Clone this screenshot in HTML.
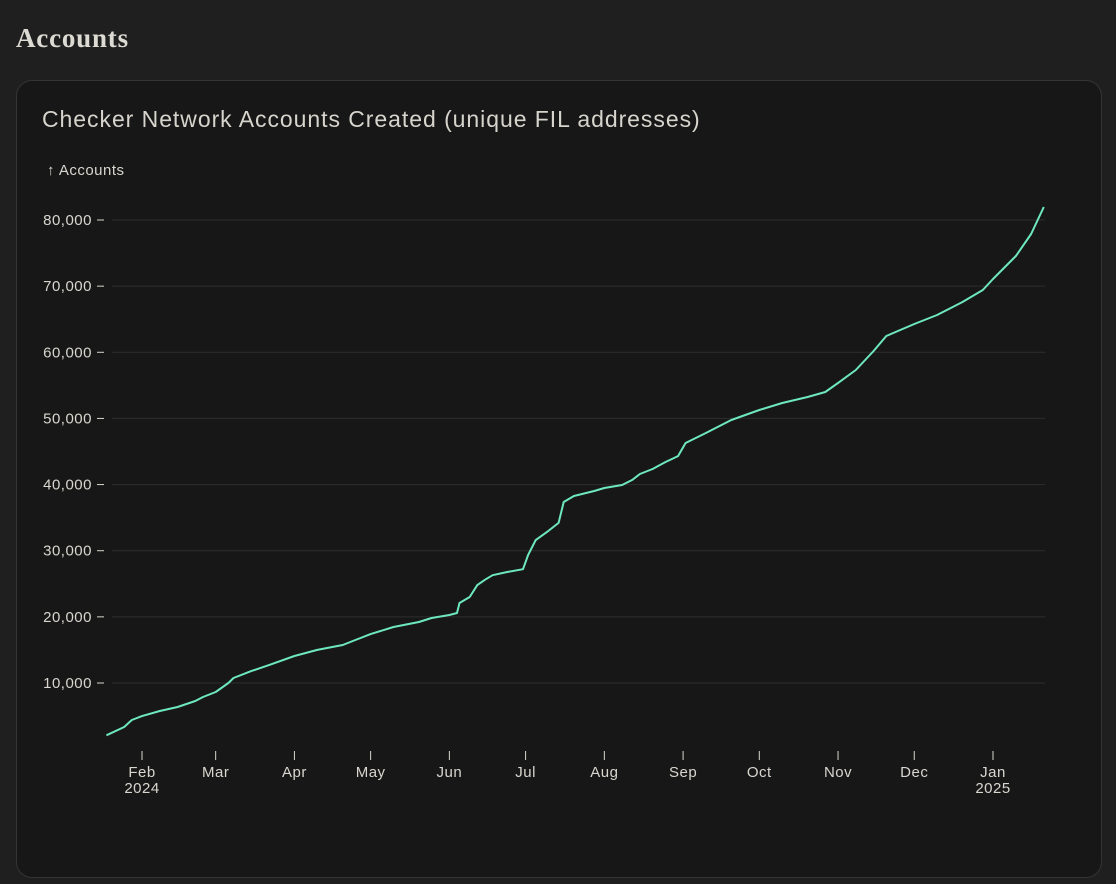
<!DOCTYPE html>
<html><head><meta charset="utf-8"><style>
html,body{margin:0;padding:0;background:#1f1f1f;width:1116px;height:884px;overflow:hidden}
h1{position:absolute;left:16px;top:23px;margin:0;font-family:"Liberation Serif",serif;font-weight:bold;font-size:27px;letter-spacing:0.8px;color:#dcdad2}
#card{position:absolute;left:16px;top:80px;width:1086px;height:798px;background:#171717;border:1px solid #343434;border-radius:16px;box-sizing:border-box}
#title{position:absolute;left:42px;top:106px;font-family:"Liberation Sans",sans-serif;font-size:23px;letter-spacing:0.95px;color:#d6d4cc}
svg{position:absolute;left:0;top:0}
text{font-family:"Liberation Sans",sans-serif;font-size:15px;letter-spacing:0.5px;fill:#d8d6ce}
</style></head><body>
<h1>Accounts</h1>
<div id="card"></div>
<div id="title">Checker Network Accounts Created (unique FIL addresses)</div>
<svg id="chart" width="1116" height="884"></svg>
<script>
const yTicks=[10000,20000,30000,40000,50000,60000,70000,80000];
const xTickDates=["2024-02-01","2024-03-01","2024-04-01","2024-05-01","2024-06-01","2024-07-01","2024-08-01","2024-09-01","2024-10-01","2024-11-01","2024-12-01","2025-01-01"];
const xTickLabels=["Feb","Mar","Apr","May","Jun","Jul","Aug","Sep","Oct","Nov","Dec","Jan"];
const xTickYears=["2024","","","","","","","","","","","2025"];
const dates=["2024-01-18","2024-01-25","2024-01-28","2024-02-01","2024-02-08","2024-02-15","2024-02-22","2024-02-25","2024-03-01","2024-03-06","2024-03-08","2024-03-15","2024-03-22","2024-04-01","2024-04-10","2024-04-20","2024-04-25","2024-05-01","2024-05-10","2024-05-20","2024-05-25","2024-06-01","2024-06-04","2024-06-05","2024-06-09","2024-06-12","2024-06-15","2024-06-18","2024-06-24","2024-06-30","2024-07-02","2024-07-05","2024-07-10","2024-07-14","2024-07-16","2024-07-20","2024-07-28","2024-08-01","2024-08-08","2024-08-12","2024-08-15","2024-08-20","2024-08-25","2024-08-30","2024-09-02","2024-09-10","2024-09-20","2024-10-01","2024-10-10","2024-10-20","2024-10-27","2024-11-01","2024-11-08","2024-11-15","2024-11-20","2024-12-01","2024-12-10","2024-12-20","2024-12-28","2025-01-01","2025-01-10","2025-01-16","2025-01-21"];
const accounts=[2100,3350,4400,5000,5770,6370,7280,7880,8640,10000,10760,11800,12700,14080,15000,15750,16500,17400,18470,19220,19830,20280,20580,22100,23000,24800,25600,26300,26800,27200,29350,31600,33000,34200,37370,38270,39030,39480,39940,40700,41600,42350,43400,44300,46290,47800,49760,51280,52330,53240,54000,55360,57320,60200,62460,64280,65640,67600,69420,71080,74560,77890,81970];

const NS="http://www.w3.org/2000/svg";
const svg=document.getElementById('chart');
const t0=Date.parse("2024-02-01"), t1=Date.parse("2025-01-01");
function x(d){return 142+(Date.parse(d)-t0)/(t1-t0)*(993-142);}
function y(v){return 683-(v-10000)*(683-220)/70000;}
function mk(tag,attrs){const e=document.createElementNS(NS,tag);for(const k in attrs)e.setAttribute(k,attrs[k]);svg.appendChild(e);return e;}

const yl=mk('text',{x:47,y:175});
yl.textContent="↑ Accounts";



yTicks.forEach(v=>{
  const g=mk('line',{x1:112,x2:1045,y1:y(v),y2:y(v),stroke:'#2e2e2e','stroke-width':1});
  
  
  const tk=mk('line',{x1:97,x2:104,y1:y(v),y2:y(v),stroke:'#d8d6ce','stroke-width':1});
  
  
  const t=mk('text',{x:92,y:y(v)+5,'text-anchor':'end'});
  t.textContent=v.toLocaleString('en-US');
  
  
});
xTickDates.forEach((d,i)=>{
  const xx=x(d);
  const tk=mk('line',{x1:xx,x2:xx,y1:751,y2:760,stroke:'#d8d6ce','stroke-width':1});
  
  
  const t=mk('text',{x:xx,y:777,'text-anchor':'middle'});
  t.textContent=xTickLabels[i];
  
  
  if(xTickYears[i]){
    const ty=mk('text',{x:xx,y:793,'text-anchor':'middle'});
    ty.textContent=xTickYears[i];
    
    
  }
});
const p=mk('path',{d:dates.map((d,i)=>(i?'L':'M')+x(d).toFixed(1)+','+y(accounts[i]).toFixed(1)).join(''),fill:'none',stroke:'#6ee8c0','stroke-width':2,'stroke-linejoin':'round'});


</script>
</body></html>
